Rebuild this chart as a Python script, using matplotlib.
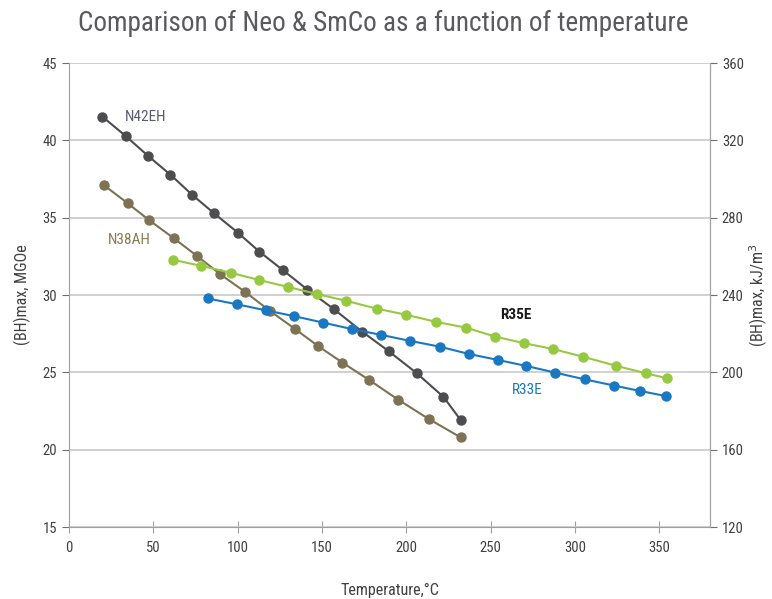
import numpy as np
import matplotlib.pyplot as plt
from matplotlib import font_manager

# pick a narrow font if available
names = {f.name for f in font_manager.fontManager.ttflist}
fam = 'Liberation Sans'
for cand in ['Roboto Condensed', 'Liberation Sans Narrow', 'Open Sans Condensed']:
    if cand in names:
        fam = cand
        break
plt.rcParams['font.family'] = [fam, 'DejaVu Sans']

# ===== DATA =====
n42eh_t = [19.8, 33.6, 46.7, 60.1, 73.1, 85.8, 100.1, 112.9, 126.9, 141.3,
           157.2, 173.8, 189.6, 206.2, 222.0, 232.3]
n42eh_bh = [41.53, 40.28, 39.01, 37.78, 36.47, 35.30, 34.03, 32.80, 31.60, 30.35,
            29.07, 27.63, 26.36, 24.94, 23.41, 21.90]

n38ah_t = [20.6, 34.8, 47.6, 62.1, 75.7, 89.7, 104.4, 119.2, 134.2, 147.5,
           162.1, 177.9, 195.3, 213.5, 232.1]
n38ah_bh = [37.11, 35.93, 34.83, 33.67, 32.54, 31.34, 30.20, 28.96, 27.79, 26.71,
            25.63, 24.51, 23.22, 21.97, 20.80]

r35e_t = [61.5, 78.5, 95.9, 112.7, 129.8, 146.8, 164.1, 182.3, 200.0, 217.8,
          235.3, 252.7, 269.9, 286.9, 304.7, 324.0, 342.0, 354.5]
r35e_bh = [32.28, 31.88, 31.44, 30.97, 30.52, 30.07, 29.63, 29.12, 28.72, 28.26,
           27.89, 27.31, 26.88, 26.51, 26.01, 25.43, 24.94, 24.62]

r33e_t = [82.1, 99.5, 116.7, 133.6, 150.8, 168.0, 185.1, 202.4, 219.8, 237.0,
          254.3, 271.2, 288.3, 305.6, 323.3, 338.3, 353.7]
r33e_bh = [29.78, 29.40, 29.01, 28.63, 28.21, 27.79, 27.42, 27.03, 26.66, 26.19,
           25.80, 25.41, 24.98, 24.55, 24.14, 23.80, 23.47]

left_ticks = [15, 20, 25, 30, 35, 40, 45]
right_ticks = [120, 160, 200, 240, 280, 320, 360]
x_ticks = [0, 50, 100, 150, 200, 250, 300, 350]

# ===== PLOT =====
fig = plt.figure(figsize=(7.72, 5.99), dpi=100)
ax = fig.add_axes([0.0894, 0.1202, 0.8303, 0.7746])

gridc = '#c8c8c8'
ax.set_xlim(0, 380)
ax.set_ylim(15, 45)
ax.set_yticks(left_ticks)
ax.set_xticks(x_ticks)
ax.yaxis.grid(True, color=gridc, lw=1.2)
ax.set_axisbelow(True)
ax.spines['top'].set_visible(False)
for s in ['left', 'right', 'bottom']:
    ax.spines[s].set_color('#a0a0a0')
ax.tick_params(axis='y', direction='out', length=5, color='#707070', labelsize=10.5, labelcolor='#404040')
ax.tick_params(axis='x', direction='inout', length=8, color='#a0a0a0', labelsize=10.5, labelcolor='#404040', pad=6)

ax.plot(n42eh_t, n42eh_bh, '-o', color='#4d4d50', ms=6.5, lw=1.5)
ax.plot(n38ah_t, n38ah_bh, '-o', color='#7d7254', ms=6.5, lw=1.5)
ax.plot(r35e_t, r35e_bh, '-o', color='#96c940', ms=6.5, lw=1.5)
ax.plot(r33e_t, r33e_bh, '-o', color='#1a78c2', ms=6.5, lw=1.5)

ax.text(33, 41.5, 'N42EH', color='#5a5a70', fontsize=11, va='center')
ax.text(23, 33.55, 'N38AH', color='#8a7a50', fontsize=11, va='center')
ax.text(255.5, 28.7, 'R35E', color='#1a1a1a', fontsize=11, fontweight='bold', va='center')
ax.text(262.5, 23.85, 'R33E', color='#1a78c2', fontsize=11, va='center')

ax2 = ax.twinx()
ax2.set_ylim(120, 360)
ax2.set_yticks(right_ticks)
for s in ['top', 'left', 'bottom']:
    ax2.spines[s].set_visible(False)
ax2.spines['right'].set_color('#a0a0a0')
ax2.tick_params(axis='y', direction='out', length=5, color='#707070', labelsize=10.5, labelcolor='#404040')

ax.set_ylabel('(BH)max, MGOe', fontsize=11.5, color='#404040', labelpad=8)
ax2.set_ylabel('(BH)max, kJ/m$^3$', fontsize=11.5, color='#404040', labelpad=3)
ax.set_xlabel('Temperature,°C', fontsize=11.5, color='#404040', labelpad=20)

fig.text(0.497, 0.96, 'Comparison of Neo & SmCo as a function of temperature',
         ha='center', va='center', fontsize=19.6, color='#5a5a5e')

plt.savefig('out.png', dpi=100)
